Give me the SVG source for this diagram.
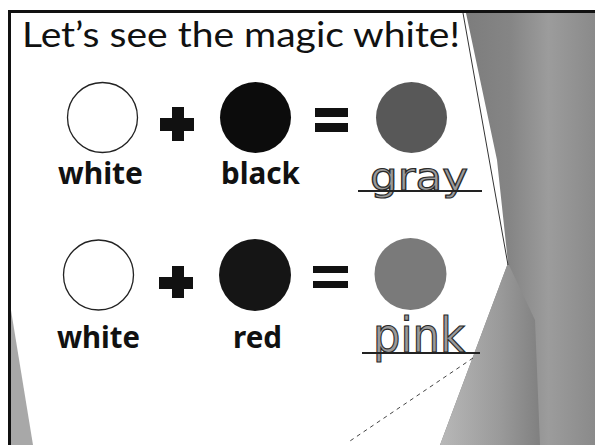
<svg xmlns="http://www.w3.org/2000/svg" width="595" height="445" viewBox="0 0 595 445">
  <style>
    .title { font-family: "Lato", "Open Sans", "Liberation Sans", sans-serif; font-size: 34px; fill: #111; }
    .lbl { font-family: "Noto Sans", "DejaVu Sans", sans-serif; font-weight: bold; font-size: 31px; fill: #111; }
    .ans { font-family: "DejaVu Sans", "Noto Sans", sans-serif; fill: #9a9a9a; stroke: #2a2a2a; stroke-width: 1.2px; }
    .uline { stroke: #222; stroke-width: 2.2; }
    .op { fill: #111; }
  </style>
  <defs>
    <linearGradient id="gUpper" x1="0" y1="0" x2="1" y2="0">
      <stop offset="0" stop-color="#787878"/>
      <stop offset="0.45" stop-color="#858585"/>
      <stop offset="0.7" stop-color="#9c9c9c"/>
      <stop offset="1" stop-color="#8a8a8a"/>
    </linearGradient>
    <linearGradient id="gLower" x1="0" y1="0" x2="1" y2="0">
      <stop offset="0" stop-color="#b8b8b8"/>
      <stop offset="0.6" stop-color="#9a9a9a"/>
      <stop offset="1" stop-color="#808080"/>
    </linearGradient>
  </defs>

  <g id="background">
    <rect x="0" y="0" width="595" height="445" fill="#ffffff"/>
    <polygon points="466,13 595,13 595,445 440,445 508,263 497,160" fill="url(#gUpper)"/>
    <polygon points="508,263 440,445 540,445 535,320" fill="url(#gLower)"/>
    <polygon points="9,298 9,445 33,445" fill="#a8a8a8"/>
    <line x1="463" y1="13" x2="508" y2="265" stroke="#333" stroke-width="1"/>
    <line x1="8" y1="11.5" x2="595" y2="11.5" stroke="#111" stroke-width="3"/>
    <line x1="9.5" y1="10" x2="9.5" y2="445" stroke="#111" stroke-width="3"/>
  </g>

  <g id="connectors">
    <line x1="473" y1="358" x2="347" y2="443" stroke="#444" stroke-width="1" stroke-dasharray="4,4"/>
  </g>

  <g id="title">
    <text class="title" x="22" y="47" textLength="438" lengthAdjust="spacingAndGlyphs">Let’s see the magic white!</text>
  </g>

  <g id="row1-white">
    <circle cx="102.5" cy="117.5" r="35" fill="#fff" stroke="#222" stroke-width="1.3"/>
    <text class="lbl" x="58" y="184" textLength="85" lengthAdjust="spacingAndGlyphs">white</text>
  </g>
  <g id="row1-plus" class="op">
    <rect x="172" y="107" width="12" height="34"/>
    <rect x="160" y="118" width="34" height="13"/>
  </g>
  <g id="row1-black">
    <circle cx="255.5" cy="117.5" r="35.5" fill="#0c0c0c"/>
    <text class="lbl" x="221" y="184" textLength="79" lengthAdjust="spacingAndGlyphs">black</text>
  </g>
  <g id="row1-equals" class="op">
    <rect x="315" y="108" width="33" height="9"/>
    <rect x="315" y="123" width="33" height="9"/>
  </g>
  <g id="row1-gray">
    <circle cx="411.5" cy="117.5" r="35.5" fill="#585858"/>
    <text class="ans" x="370" y="190" font-size="38" textLength="98" lengthAdjust="spacingAndGlyphs">gray</text>
    <line class="uline" x1="358" y1="191" x2="482" y2="191"/>
  </g>

  <g id="row2-white">
    <circle cx="98.5" cy="275" r="35" fill="#fff" stroke="#222" stroke-width="1.3"/>
    <text class="lbl" x="57" y="348" textLength="83" lengthAdjust="spacingAndGlyphs">white</text>
  </g>
  <g id="row2-plus" class="op">
    <rect x="172" y="266" width="12" height="32"/>
    <rect x="159" y="277" width="34" height="12"/>
  </g>
  <g id="row2-red">
    <circle cx="255" cy="275" r="36" fill="#151515"/>
    <text class="lbl" x="233" y="348" textLength="49" lengthAdjust="spacingAndGlyphs">red</text>
  </g>
  <g id="row2-equals" class="op">
    <rect x="313" y="266" width="35" height="7"/>
    <rect x="313" y="281" width="35" height="7"/>
  </g>
  <g id="row2-pink">
    <circle cx="410.5" cy="274" r="36" fill="#7a7a7a"/>
    <text class="ans" x="373" y="352" font-size="48" textLength="92" lengthAdjust="spacingAndGlyphs">pink</text>
    <line class="uline" x1="362" y1="353" x2="480" y2="353"/>
  </g>
</svg>
